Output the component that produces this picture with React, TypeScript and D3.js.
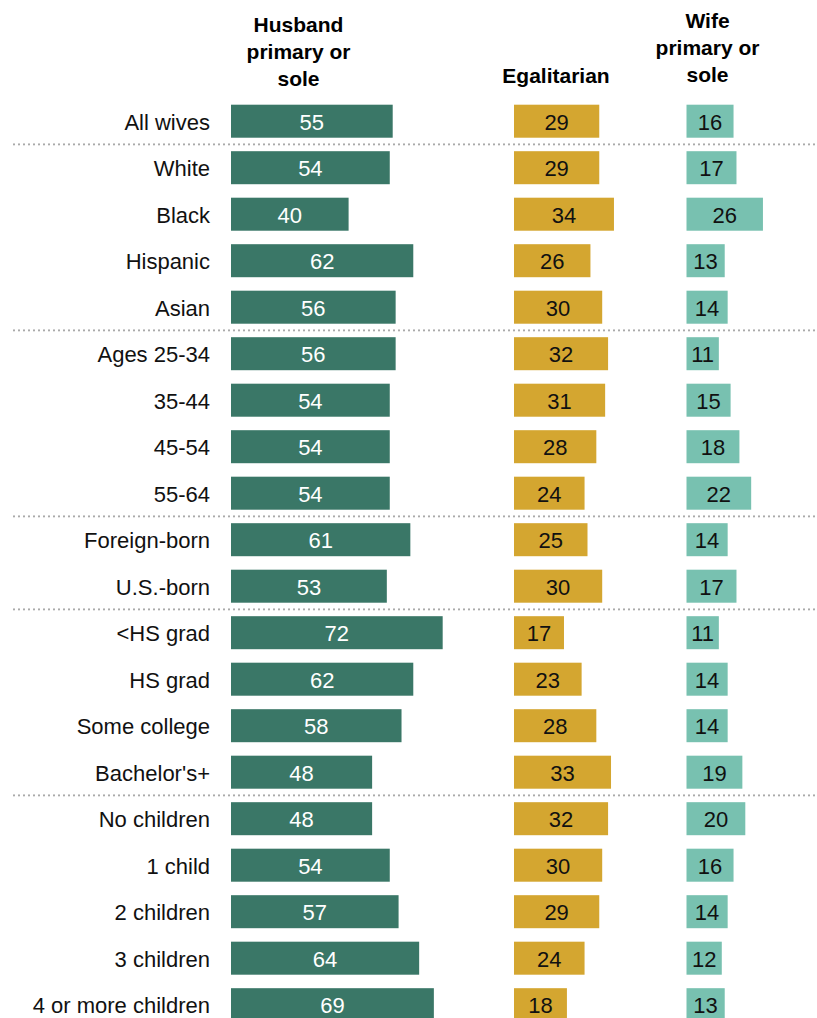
import * as d3 from "d3";

const categories = [
  "All wives",
  "White",
  "Black",
  "Hispanic",
  "Asian",
  "Ages 25-34",
  "35-44",
  "45-54",
  "55-64",
  "Foreign-born",
  "U.S.-born",
  "<HS grad",
  "HS grad",
  "Some college",
  "Bachelor's+",
  "No children",
  "1 child",
  "2 children",
  "3 children",
  "4 or more children",
];
const husband = [55, 54, 40, 62, 56, 56, 54, 54, 54, 61, 53, 72, 62, 58, 48, 48, 54, 57, 64, 69];
const egalitarian = [29, 29, 34, 26, 30, 32, 31, 28, 24, 25, 30, 17, 23, 28, 33, 32, 30, 29, 24, 18];
const wife = [16, 17, 26, 13, 14, 11, 15, 18, 22, 14, 17, 11, 14, 14, 19, 20, 16, 14, 12, 13];
// rows after which a dotted divider is drawn
const dividersAfter = [0, 4, 8, 10, 14];

const seriesHeaders = [
  ["Husband", "primary or", "sole"],
  ["Egalitarian"],
  ["Wife", "primary or", "sole"],
];

const width = 817;
const height = 1018;
const font = "'Liberation Sans', Arial, sans-serif";

export default function App() {
  const x = d3.scaleLinear().domain([0, 100]).range([0, 294]);
  const y = d3
    .scaleBand<string>()
    .domain(categories)
    .range([104.7, 104.7 + 19 * 46.5 + 33])
    .paddingInner(0.29)
    .paddingOuter(0);
  const bw = y.bandwidth();
  const step = y.step();

  const columns = [
    { values: husband, x0: 231, fill: "#3a7767", text: "#ffffff", headerX: 298.5, lastBaseline: 86 },
    { values: egalitarian, x0: 514, fill: "#d4a630", text: "#111111", headerX: 556, lastBaseline: 83 },
    { values: wife, x0: 686.5, fill: "#78c1b0", text: "#111111", headerX: 707.5, lastBaseline: 82 },
  ];

  return (
    <div style={{ position: "absolute", left: 0, top: 0 }}>
      <svg width={width} height={height} viewBox={`0 0 ${width} ${height}`} style={{ display: "block" }}>
        <rect width={width} height={height} fill="#ffffff" />

        {columns.map((col, ci) => {
          const lines = seriesHeaders[ci];
          return (
            <text
              key={`h-${ci}`}
              textAnchor="middle"
              fontFamily={font}
              fontWeight="bold"
              fontSize={21}
              fill="#000"
            >
              {lines.map((line, li) => (
                <tspan key={li} x={col.headerX} y={col.lastBaseline - (lines.length - 1 - li) * 27}>
                  {line}
                </tspan>
              ))}
            </text>
          );
        })}

        {dividersAfter.map((i) => {
          const yy = (y(categories[i]) ?? 0) + bw + (step - bw) / 2;
          return (
            <line
              key={`d-${i}`}
              x1={14}
              x2={width}
              y1={yy}
              y2={yy}
              stroke="#aaaaaa"
              strokeWidth={2.2}
              strokeLinecap="round"
              strokeDasharray="0 5"
            />
          );
        })}

        {categories.map((cat) => {
          const top = y(cat) ?? 0;
          return (
            <text
              key={`l-${cat}`}
              x={210}
              y={top + bw / 2 + 8.5}
              textAnchor="end"
              fontFamily={font}
              fontSize={22}
              fill="#111"
            >
              {cat}
            </text>
          );
        })}

        {columns.map((col, ci) => (
          <g key={`c-${ci}`} transform={`translate(${col.x0},0)`}>
            {col.values.map((v, i) => {
              const top = y(categories[i]) ?? 0;
              const w = x(v);
              return (
                <g key={i}>
                  <rect x={0} y={top} width={w} height={bw} fill={col.fill} />
                  <text
                    x={w / 2}
                    y={top + bw / 2 + 8.5}
                    textAnchor="middle"
                    fontFamily={font}
                    fontSize={22}
                    fill={col.text}
                  >
                    {v}
                  </text>
                </g>
              );
            })}
          </g>
        ))}
      </svg>
    </div>
  );
}
